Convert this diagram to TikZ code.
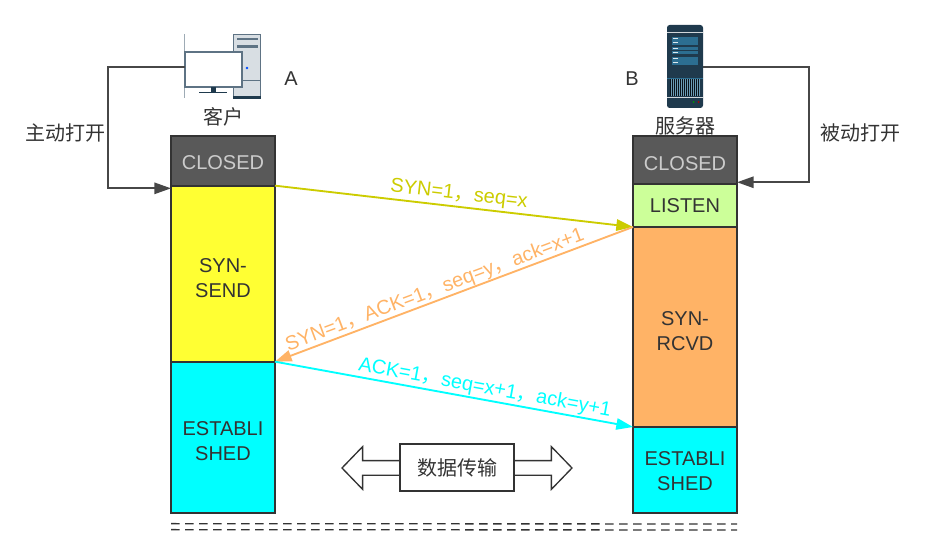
\documentclass[tikz,border=0pt]{standalone}
\usepackage{fontspec}
\setmainfont{Liberation Sans}
\newfontfamily\cjk{Noto Sans CJK SC}
\usetikzlibrary{shapes, shapes.arrows, arrows.meta, positioning, calc}

\definecolor{darktext}{HTML}{333333}
\definecolor{closedfill}{HTML}{595959}
\definecolor{sendfill}{HTML}{FFFF33}
\definecolor{listenfill}{HTML}{CCFF99}
\definecolor{estfill}{HTML}{00FFFF}
\definecolor{synyellow}{HTML}{CCCC00}
\definecolor{synorange}{HTML}{FFB366}
\definecolor{panelblue}{HTML}{1F3A4D}
\definecolor{rowblue}{HTML}{2C6E91}
\definecolor{casegrey}{HTML}{D8DEE3}
\definecolor{caseline}{HTML}{5E7384}

\begin{document}
\begin{tikzpicture}[x=0.75pt, y=-0.75pt, >={Triangle[length=12.5pt,width=8.5pt]},
        every node/.style={text=darktext, font=\fontsize{15}{18.75}\selectfont},
        drop/.style={execute at begin node={\endgraf\vspace{\dimexpr#1-18.75pt\relax}}},
        state/.style={rectangle, draw=darktext, line width=1.4pt, outer sep=0pt, inner sep=0pt, text centered, text width=70pt, minimum width=78pt},
        closedstate/.style={state, fill=closedfill, text=black!20, minimum height=37pt},
        caption/.style={font=\cjk\fontsize{15}{18.75}\selectfont},
        loopline/.style={draw=darktext!90, line width=1.4pt},
        msg/.style={line width=1.4pt},
        msglabel/.style={sloped, above, inner sep=0pt}]

        \useasboundingbox (0,0) rectangle (933,555);

        % Client column
        \node (closedA) [closedstate, drop=12.75pt] at (223,161) {CLOSED};
        \node (sendA) [state, drop=16.5pt, fill=sendfill, minimum height=132pt, below=0pt of closedA] {SYN-\\SEND};
        \node (estA) [state, drop=16.5pt, fill=estfill, minimum height=113.25pt, below=0pt of sendA] {ESTABLI\\SHED};

        % Server column
        \node (closedB) [closedstate, drop=15.75pt, minimum height=36pt] at (685,160) {CLOSED};
        \node (listenB) [state, drop=10.5pt, fill=listenfill, minimum height=32.25pt, below=0pt of closedB] {LISTEN};
        \node (rcvdB) [state, drop=17.25pt, fill=synorange, minimum height=150pt, below=0pt of listenB] {SYN-\\RCVD};
        \node (estB) [state, drop=12pt, fill=estfill, minimum height=64.5pt, below=0pt of rcvdB] {ESTABLI\\SHED};

        % Client computer
        \draw [caseline!60, line width=0.5pt] (184.3,34) -- (184.3,98);
        \filldraw [fill=casegrey, draw=caseline, line width=0.8pt] (233.5,34.5) rectangle (260.5,98);
        \fill [panelblue] (233,96) rectangle (261,99);
        \fill [caseline] (237,38.5) rectangle (258,40);
        \fill [caseline] (237,45) rectangle (258,48.5);
        \draw [caseline, line width=0.5pt] (233.5,80) -- (260.5,80);
        \fill [blue!70!cyan] (247,68) circle (1.3);
        \node (monitor) [draw=caseline, fill=white, line width=0.9pt, outer sep=0pt, minimum width=42.75pt, minimum height=26.25pt] at (213.5,69.5) {};
        \fill [panelblue] (211,87) rectangle (216,92);
        \fill [panelblue] (199,92) rectangle (227,93.2);

        % Server machine
        \node (server) [fill=panelblue, rounded corners=2pt, outer sep=0pt, minimum width=27pt, minimum height=62.25pt] at (685,66.5) {};
        \draw [white!80!panelblue, line width=0.6pt] (667,32) -- (703,32);
        \foreach \rowtop in {37.3,41.3,46.7,50.7,57.3,61.3}
            \fill [rowblue] (672,\rowtop) rectangle (698,\rowtop+3.4);
        \foreach \rowtop in {37.3,41.3,46.7,50.7,57.3,61.3}
            \fill [white!85!rowblue] (673,\rowtop+1.2) rectangle (677.5,\rowtop+2.2);
        \draw [rowblue, line width=0.5pt] (667,78) -- (703,78);
        \fill [black!70!panelblue] (670,79.5) rectangle (700,96);
        \foreach \barx in {671,673,...,699}
            \draw [rowblue!70, line width=0.25pt] (\barx,79.5) -- (\barx,96);
        \draw [white!80!panelblue, line width=0.5pt] (667,97.3) -- (703,97.3);
        \fill [green!60!black] (693.7,102) circle (1);
        \fill [red!70!black] (698.7,102) circle (1);

        % Captions
        \node (client) [caption] at (223,117) {客户};
        \node (host) [caption] at (685,126) {服务器};
        \node (nameA) at (291,79) {A};
        \node (nameB) at (632,79) {B};
        \node (openA) [caption] at (66,133) {主动打开};
        \node (openB) [caption] at (860,133) {被动打开};

        % Open loops
        \coordinate (loopA) at (108,67);
        \coordinate (loopB) at (809,67);
        \draw [->, loopline] (monitor.west |- loopA) -- (loopA) |- ([yshift=-2pt]closedA.south west);
        \draw [->, loopline] (server.east |- loopB) -- (loopB) |- ([yshift=1.3pt]closedB.south east);

        % Handshake
        \draw [->, msg, synyellow] (closedA.south east) -- (listenB.south west)
            node[msglabel, text=synyellow, pos=0.51, yshift=1.5pt] {SYN=1{\cjk ，}seq=x};
        \draw [->, msg, synorange] (listenB.south west) -- (sendA.south east)
            node[msglabel, text=synorange, pos=0.543, yshift=0pt] {SYN=1{\cjk ，}ACK=1{\cjk ，}seq=y{\cjk ，}ack=x+1};
        \draw [->, msg, estfill] (sendA.south east) -- (estB.north west)
            node[msglabel, text=estfill, pos=0.58, yshift=1pt] {ACK=1{\cjk ，}seq=x+1{\cjk ，}ack=y+1};

        % Data transfer
        \node (transfer) [double arrow, draw=darktext, fill=white, line width=1pt, inner xsep=0pt, inner ysep=5pt, minimum width=31.5pt, minimum height=172.5pt, double arrow head extend=10.5pt, double arrow tip angle=92] at (457,468) {};
        \node (data) [caption, draw=darktext, fill=white, line width=1.2pt, minimum width=85.5pt, minimum height=35.25pt] at (457,467.5) {数据传输};

        % Session line
        \coordinate (endA) at ($(estA.south west)+(0,11)$);
        \coordinate (endB) at ($(estB.south east)+(0,11)$);
        \draw [darktext, line width=1pt, dash pattern=on 6.5pt off 4pt] (endA) -- (endB);
        \draw [darktext, line width=1pt, dash pattern=on 6.5pt off 4pt] ($(endA)+(0,6)$) -- ($(endB)+(0,6)$);

    \end{tikzpicture}
\end{document}
